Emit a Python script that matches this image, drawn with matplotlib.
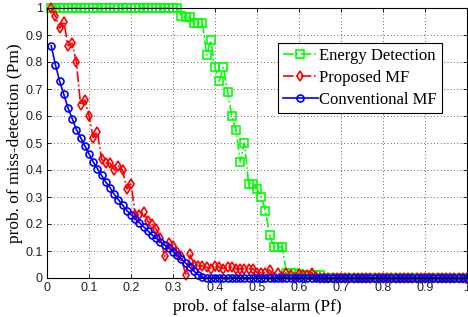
import numpy as np
import matplotlib
matplotlib.use('Agg')
import matplotlib.pyplot as plt

# false-alarm axis (0.01 ... 1.00)
pf = np.round(np.arange(1, 101) * 0.01, 2)

# Energy Detection
pm_energy = np.zeros(100)
pm_energy[:31] = 1.0
pm_energy[30:65] = [
    1.0, 0.97, 0.965, 0.965, 0.945, 0.945, 0.945, 0.826, 0.88, 0.78,
    0.73, 0.78, 0.69, 0.60, 0.55, 0.43, 0.50, 0.35, 0.35, 0.33,
    0.30, 0.25, 0.16, 0.115, 0.115, 0.115, 0.02, 0.02, 0.02, 0.015,
    0.01, 0.01, 0.01, 0.01, 0.01,
]

# Proposed MF
pm_proposed = np.zeros(100)
pm_proposed[:64] = [
    1.0, 0.97, 0.925, 0.95, 0.86, 0.87, 0.80, 0.64, 0.66, 0.60,
    0.52, 0.54, 0.44, 0.425, 0.425, 0.40, 0.415, 0.40, 0.33, 0.35,
    0.235, 0.235, 0.245, 0.21, 0.20, 0.18, 0.15, 0.08, 0.13, 0.12,
    0.095, 0.08, 0.01, 0.09, 0.05, 0.045, 0.045, 0.04, 0.035, 0.045,
    0.04, 0.035, 0.04, 0.04, 0.035, 0.035, 0.035, 0.035, 0.035, 0.02,
    0.02, 0.02, 0.03, 0.005, 0.02, 0.005, 0.02, 0.01, 0.0, 0.015,
    0.01, 0.01, 0.02, 0.005,
]

# Conventional MF
pm_conv = np.zeros(100)
pm_conv[:37] = [
    0.86, 0.79, 0.73, 0.68, 0.63, 0.59, 0.55, 0.52, 0.49, 0.46,
    0.43, 0.405, 0.38, 0.355, 0.335, 0.31, 0.29, 0.27, 0.25, 0.235,
    0.22, 0.205, 0.19, 0.175, 0.16, 0.148, 0.135, 0.122, 0.11, 0.098,
    0.085, 0.07, 0.055, 0.04, 0.025, 0.012, 0.003,
]

ticks = np.round(np.arange(0, 1.01, 0.1), 1)
tick_labels = ['0', '0.1', '0.2', '0.3', '0.4', '0.5', '0.6', '0.7', '0.8', '0.9', '1']

fig = plt.figure(figsize=(4.68, 3.17), dpi=100)
ax = fig.add_axes([47 / 468, 1 - 278 / 317, 420 / 468, 270 / 317])

ax.plot(pf, pm_energy, '-.', color='#00ff00', marker='s', markersize=5.5,
        markerfacecolor='none', markeredgewidth=1.2, linewidth=1.2,
        label='Energy Detection', clip_on=False)
ax.plot(pf, pm_proposed, '-.', color='#ff0000', marker='d', markersize=5.5,
        markerfacecolor='none', markeredgewidth=1.2, linewidth=1.2,
        label='Proposed MF', clip_on=False)
ax.plot(pf, pm_conv, '-', color='#0000ff', marker='o', markersize=5,
        markerfacecolor='none', markeredgewidth=1.2, linewidth=1.2,
        label='Conventional MF', clip_on=False)

ax.set_xlim(0, 1)
ax.set_ylim(0, 1)
ax.set_xticks(ticks)
ax.set_yticks(ticks)
ax.set_xticklabels(tick_labels, fontsize=9, family='Liberation Sans', color='#222222')
ax.set_yticklabels(tick_labels, fontsize=9, family='Liberation Sans', color='#222222')
ax.tick_params(direction='in', length=3, width=0.6, top=True, right=True, pad=3)
ax.grid(True, linestyle=(0, (1, 3)), color='#333333', linewidth=0.6)
for s in ax.spines.values():
    s.set_linewidth(0.8)

ax.set_xlabel('prob. of false-alarm (Pf)', fontsize=12.5, family='Liberation Serif', labelpad=3.5)
ax.set_ylabel('prob. of miss-detection (Pm)', fontsize=12.5, family='Liberation Serif', labelpad=2)

leg = ax.legend(loc='upper right', bbox_to_anchor=(0.94, 0.87), fancybox=False,
                edgecolor='black', framealpha=1, borderpad=0.3, handlelength=2.1,
                handletextpad=0.1, labelspacing=0.35, borderaxespad=0,
                prop={'family': 'Liberation Serif', 'size': 12})
leg.get_frame().set_linewidth(0.8)

fig.savefig('out.png', dpi=100)
